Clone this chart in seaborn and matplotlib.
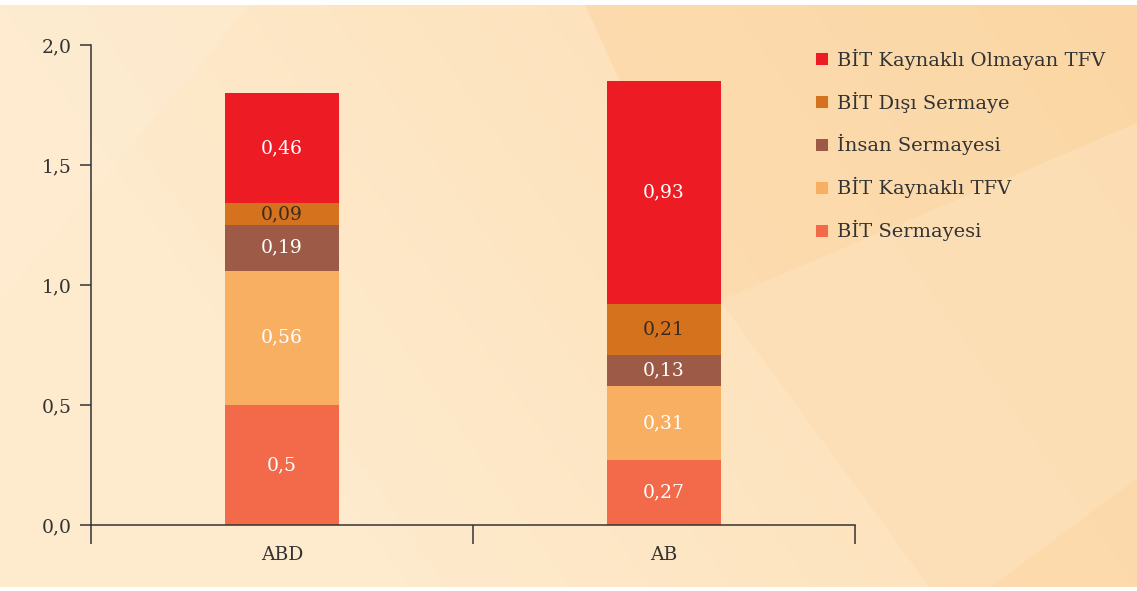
import numpy as np
import pandas as pd
import matplotlib.pyplot as plt
from matplotlib.patches import Polygon
from matplotlib.lines import Line2D
import seaborn as sns

# Data
countries = ['ABD', 'AB']
series = ['BİT Sermayesi', 'BİT Kaynaklı TFV', 'İnsan Sermayesi',
          'BİT Dışı Sermaye', 'BİT Kaynaklı Olmayan TFV']
bit_sermayesi = [0.5, 0.27]
bit_kaynakli_tfv = [0.56, 0.31]
insan_sermayesi = [0.19, 0.13]
bit_disi_sermaye = [0.09, 0.21]
bit_olmayan_tfv = [0.46, 0.93]
values = [bit_sermayesi, bit_kaynakli_tfv, insan_sermayesi,
          bit_disi_sermaye, bit_olmayan_tfv]
y_ticks = [0.0, 0.5, 1.0, 1.5, 2.0]

colors = ['#F26A4A', '#F8AF62', '#9D5B47', '#D4721D', '#ED1C24']
label_colors = ['white', 'white', 'white', '#3a2a20', 'white']

sns.set_theme(style='white')
plt.rcParams['font.family'] = ['DejaVu Serif']
text_col = '#333333'

fig = plt.figure(figsize=(11.37, 5.91), dpi=100)
fig.patch.set_facecolor('white')

# decorative background
bg = fig.add_axes([0, 0.006, 1, 0.986], zorder=-5)
bg.set_xlim(0, 1137)
bg.set_ylim(591, 0)
bg.axis('off')
gx = np.linspace(0, 1, 300)
gy = np.linspace(0, 1, 150)
GX, GY = np.meshgrid(gx, gy)
c0 = np.array([254, 234, 204]) / 255
c1 = np.array([252, 214, 162]) / 255
t = np.clip(0.7 * GX - 0.25 * GY, 0, 1)[..., None]
img = c0 * (1 - t) + c1 * t
bg.imshow(img, extent=[0, 1137, 591, 0], aspect='auto')
bg.add_patch(Polygon([(585, 0), (1137, 0), (1137, 591), (930, 591), (720, 300)],
                     closed=True, color='#FBCD92', alpha=0.35, lw=0))
bg.add_patch(Polygon([(720, 300), (1137, 120), (1137, 480), (990, 591), (930, 591)],
                     closed=True, color='#FEE6C4', alpha=0.45, lw=0))
bg.add_patch(Polygon([(0, 0), (250, 0), (0, 300)],
                     closed=True, color='#FEEFD8', alpha=0.4, lw=0))

ax = fig.add_axes([91 / 1137, 1 - 525 / 591, (855 - 91) / 1137, (525 - 45) / 591])
ax.patch.set_alpha(0)

rows = []
for name, vals in zip(series, values):
    for c, v in zip(countries, vals):
        rows.append({'Ülke': c, 'Seri': name, 'Değer': v})
df = pd.DataFrame(rows)

bottom = np.zeros(len(countries))
for name, col, lc in zip(series, colors, label_colors):
    sub = df[df['Seri'] == name]
    sns.barplot(data=sub, x='Ülke', y='Değer', order=countries, color=col,
                width=0.3, bottom=bottom, ax=ax, saturation=1,
                linewidth=0, errorbar=None)
    for i, v in enumerate(sub['Değer'].values):
        ax.text(i, bottom[i] + v / 2, f'{v:g}'.replace('.', ','),
                ha='center', va='center', color=lc, fontsize=13.5)
    bottom = bottom + sub['Değer'].values

ax.set_xlim(-0.5, 1.5)
ax.set_ylim(0, 2.0)
ax.set_yticks(y_ticks)
ax.set_yticklabels([f'{v:.1f}'.replace('.', ',') for v in y_ticks],
                   fontsize=13.5, color=text_col)
ax.set_xticks([0, 1])
ax.set_xticklabels(countries, fontsize=13.5, color=text_col)
ax.set_xticks([-0.5, 0.5, 1.5], minor=True)
ax.tick_params(axis='x', which='major', length=0, pad=15)
ax.tick_params(axis='x', which='minor', length=14, width=1.1,
               direction='out', color=text_col, bottom=True)
ax.tick_params(axis='y', which='major', length=8, width=1.1,
               direction='out', color=text_col, left=True, pad=6)
ax.set_xlabel('')
ax.set_ylabel('')
for s in ['top', 'right']:
    ax.spines[s].set_visible(False)
for s in ['left', 'bottom']:
    ax.spines[s].set_color(text_col)
    ax.spines[s].set_linewidth(1.1)

handles = [Line2D([], [], marker='s', linestyle='', markersize=8,
                  markerfacecolor=c, markeredgewidth=0)
           for c in colors[::-1]]
leg = fig.legend(handles, series[::-1], loc='upper left',
                 bbox_to_anchor=(799 / 1137, 1 - 31 / 591), frameon=False,
                 fontsize=14, handlelength=0.6, handletextpad=0.45,
                 labelspacing=1.12, labelcolor=text_col)

fig.savefig('out.png', dpi=100)
